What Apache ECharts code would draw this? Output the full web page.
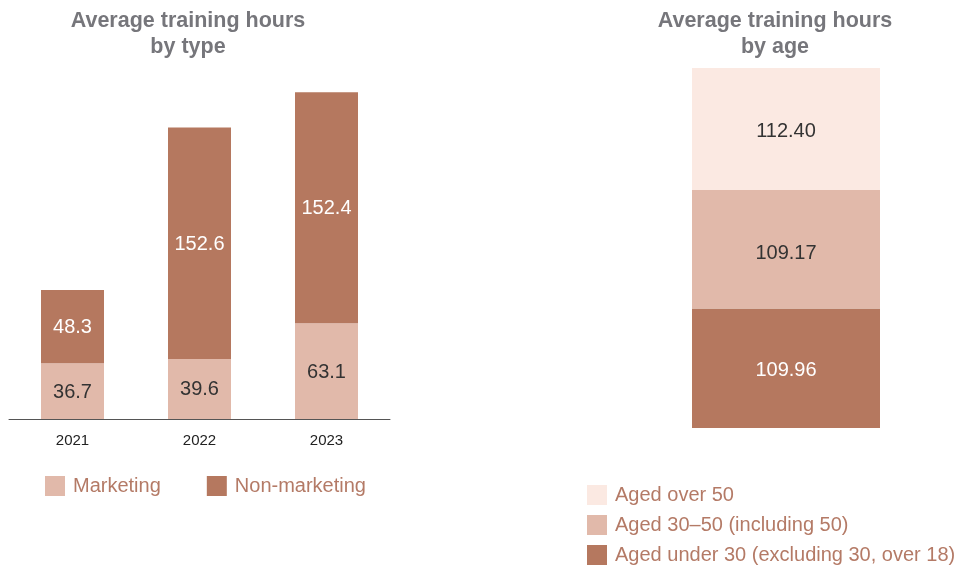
<!DOCTYPE html>
<html>
<head>
<meta charset="utf-8">
<script src="https://cdn.jsdelivr.net/npm/echarts@6/dist/echarts.min.js"></script>
<style>html,body{margin:0;padding:0;background:#fff;}#main{width:963px;height:566px;}</style>
</head>
<body>
<div id="main"></div>
<script>
const years = ['2021', '2022', '2023'];
const marketing = [36.7, 39.6, 63.1];
const nonMarketing = [48.3, 152.6, 152.4];
const typeSeriesNames = ['Marketing', 'Non-marketing'];

const ageNames = ['Aged over 50', 'Aged 30–50 (including 50)', 'Aged under 30 (excluding 30, over 18)'];
const ageOver50 = [112.40];
const age30to50 = [109.17];
const ageUnder30 = [109.96];

const titleLeft = 'Average training hours\nby type';
const titleRight = 'Average training hours\nby age';

const cDark = '#b5785f';
const cMid = '#e1b9aa';
const cLight = '#fbe9e2';
const font = 'Liberation Sans, Arial, Helvetica, sans-serif';

const ageTotal = ageOver50[0] + age30to50[0] + ageUnder30[0];

const chart = echarts.init(document.getElementById('main'));
chart.setOption({
  animation: false,
  textStyle: { fontFamily: font },
  graphic: [
    { type: 'text', x: 188, y: 8, style: { text: titleLeft, align: 'center', verticalAlign: 'top', font: 'bold 21.5px ' + font, lineHeight: 26, fill: '#76767b' } },
    { type: 'text', x: 775, y: 8, style: { text: titleRight, align: 'center', verticalAlign: 'top', font: 'bold 21.5px ' + font, lineHeight: 26, fill: '#76767b' } }
  ],
  legend: [
    {
      data: typeSeriesNames, left: 45, top: 476, padding: 0,
      itemWidth: 20, itemHeight: 20, itemGap: 46, icon: 'rect',
      textStyle: { color: '#b47a66', fontSize: 20, fontFamily: font, padding: [0, 0, 0, 3] }
    },
    {
      data: ageNames, orient: 'vertical', left: 587, top: 485, padding: 0,
      itemWidth: 20, itemHeight: 20, itemGap: 10, icon: 'rect',
      textStyle: { color: '#b47a66', fontSize: 20, fontFamily: font, lineHeight: 20, padding: [0, 0, 0, 3] }
    }
  ],
  grid: [
    { left: 9, width: 381, top: 55, height: 364 },
    { left: 692, width: 188, top: 68, height: 360 }
  ],
  xAxis: [
    {
      type: 'category', data: years, gridIndex: 0,
      axisLine: { lineStyle: { color: '#555', width: 1 } },
      axisTick: { show: false },
      axisLabel: { color: '#222', fontSize: 15, margin: 14, fontFamily: font }
    },
    { type: 'category', data: [''], gridIndex: 1, show: false }
  ],
  yAxis: [
    { type: 'value', gridIndex: 0, min: 0, max: 240, show: false, splitLine: { show: false } },
    { type: 'value', gridIndex: 1, min: 0, max: ageTotal, show: false, splitLine: { show: false } }
  ],
  series: [
    {
      name: typeSeriesNames[0], type: 'bar', stack: 'type', xAxisIndex: 0, yAxisIndex: 0,
      data: marketing, barWidth: 63, itemStyle: { color: cMid },
      label: { show: true, position: 'inside', offset: [0, 1], color: '#333', fontSize: 20, fontFamily: font }
    },
    {
      name: typeSeriesNames[1], type: 'bar', stack: 'type', xAxisIndex: 0, yAxisIndex: 0,
      data: nonMarketing, barWidth: 63, itemStyle: { color: cDark },
      label: { show: true, position: 'inside', offset: [0, 1], color: '#fff', fontSize: 20, fontFamily: font }
    },
    {
      name: ageNames[2], type: 'bar', stack: 'age', xAxisIndex: 1, yAxisIndex: 1,
      data: ageUnder30, barWidth: '100%', itemStyle: { color: cDark },
      label: { show: true, position: 'inside', offset: [0, 2], color: '#fff', fontSize: 20, fontFamily: font, formatter: p => p.value.toFixed(2) }
    },
    {
      name: ageNames[1], type: 'bar', stack: 'age', xAxisIndex: 1, yAxisIndex: 1,
      data: age30to50, barWidth: '100%', itemStyle: { color: cMid },
      label: { show: true, position: 'inside', offset: [0, 4], color: '#333', fontSize: 20, fontFamily: font, formatter: p => p.value.toFixed(2) }
    },
    {
      name: ageNames[0], type: 'bar', stack: 'age', xAxisIndex: 1, yAxisIndex: 1,
      data: ageOver50, barWidth: '100%', itemStyle: { color: cLight },
      label: { show: true, position: 'inside', offset: [0, 2], color: '#333', fontSize: 20, fontFamily: font, formatter: p => p.value.toFixed(2) }
    }
  ]
});
</script>
</body>
</html>
